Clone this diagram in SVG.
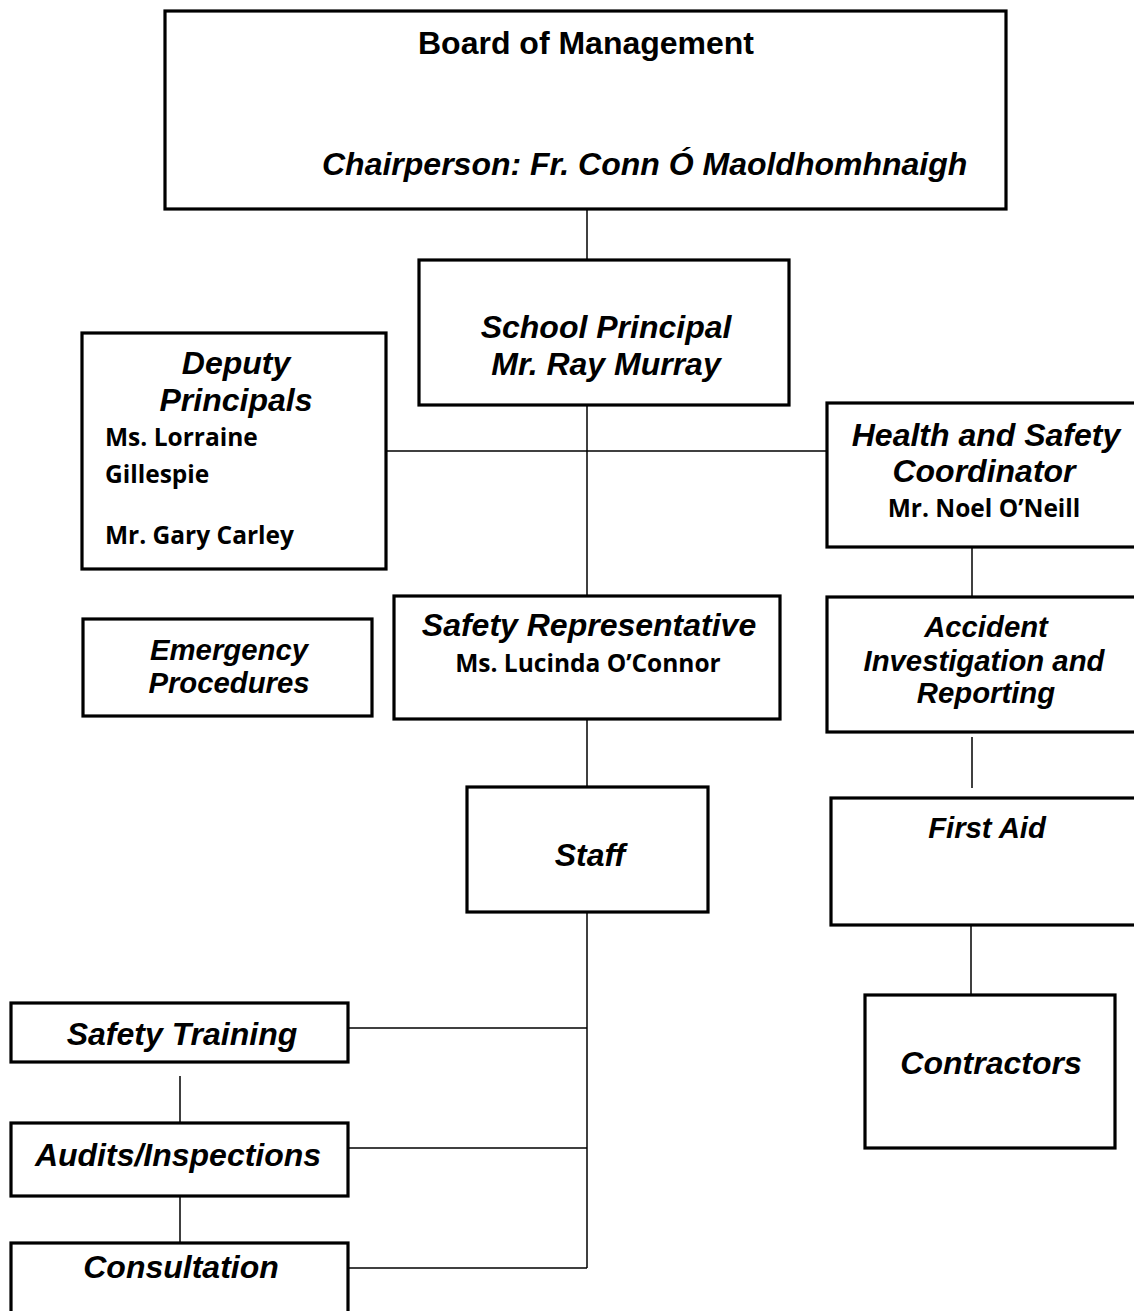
<svg xmlns="http://www.w3.org/2000/svg" width="1134" height="1311" viewBox="0 0 1134 1311">
<style>
.box{fill:#fff;stroke:#000;stroke-width:3.2}
.t{font-family:"Liberation Sans",Arial,sans-serif;font-weight:bold;font-style:italic;font-size:32px;fill:#000}
.ts{font-size:29.3px}
.h{font-family:"Liberation Sans",Arial,sans-serif;font-weight:bold;font-size:32px;fill:#000}
.n{font-family:"Open Sans","Noto Sans",sans-serif;font-weight:bold;font-size:24.5px;fill:#000}
.c{stroke:#000;stroke-width:1.5;fill:none}
</style>
<rect width="1134" height="1311" fill="#fff"/>
<g id="connectors">
<line class="c" x1="587" y1="209" x2="587" y2="260"/>
<line class="c" x1="587" y1="405" x2="587" y2="596"/>
<line class="c" x1="386" y1="451" x2="827" y2="451"/>
<line class="c" x1="972" y1="547" x2="972" y2="597"/>
<line class="c" x1="972" y1="737" x2="972" y2="788"/>
<line class="c" x1="971" y1="922" x2="971" y2="995"/>
<line class="c" x1="587" y1="719" x2="587" y2="787"/>
<line class="c" x1="587" y1="908" x2="587" y2="1268"/>
<line class="c" x1="348" y1="1028" x2="587" y2="1028"/>
<line class="c" x1="348" y1="1148" x2="587" y2="1148"/>
<line class="c" x1="348" y1="1268" x2="587" y2="1268"/>
<line class="c" x1="180" y1="1076" x2="180" y2="1123"/>
<line class="c" x1="180" y1="1196" x2="180" y2="1243"/>
</g>
<g id="board">
<rect class="box" x="165" y="11" width="841" height="198"/>
<text class="h" x="586" y="54" text-anchor="middle">Board of Management</text>
<text class="t" x="322" y="175">Chairperson: Fr. Conn Ó Maoldhomhnaigh</text>
</g>
<g id="principal">
<rect class="box" x="419" y="260" width="370" height="145"/>
<text class="t" x="606" y="338" text-anchor="middle">School Principal</text>
<text class="t" x="606" y="375" text-anchor="middle">Mr. Ray Murray</text>
</g>
<g id="deputy">
<rect class="box" x="82" y="333" width="304" height="236"/>
<text class="t" x="236" y="374" text-anchor="middle">Deputy</text>
<text class="t" x="236" y="411" text-anchor="middle">Principals</text>
<text class="n" x="105" y="446">Ms. Lorraine</text>
<text class="n" x="105" y="483">Gillespie</text>
<text class="n" x="105" y="544">Mr. Gary Carley</text>
</g>
<g id="hs-coordinator">
<rect class="box" x="827" y="403" width="320" height="144"/>
<text class="t" x="986" y="446" text-anchor="middle">Health and Safety</text>
<text class="t" x="984" y="482" text-anchor="middle">Coordinator</text>
<text class="n" x="984" y="517" text-anchor="middle">Mr. Noel O’Neill</text>
</g>
<g id="emergency">
<rect class="box" x="83" y="619" width="289" height="97"/>
<text class="t ts" x="229" y="660" text-anchor="middle">Emergency</text>
<text class="t ts" x="229" y="693" text-anchor="middle">Procedures</text>
</g>
<g id="safety-rep">
<rect class="box" x="394" y="596" width="386" height="123"/>
<text class="t" x="589" y="636" text-anchor="middle">Safety Representative</text>
<text class="n" x="588" y="672" text-anchor="middle">Ms. Lucinda O’Connor</text>
</g>
<g id="accident">
<rect class="box" x="827" y="597" width="320" height="135"/>
<text class="t ts" x="986" y="637" text-anchor="middle">Accident</text>
<text class="t ts" x="984" y="671" text-anchor="middle">Investigation and</text>
<text class="t ts" x="986" y="703" text-anchor="middle">Reporting</text>
</g>
<g id="staff">
<rect class="box" x="467" y="787" width="241" height="125"/>
<text class="t" x="590" y="866" text-anchor="middle">Staff</text>
</g>
<g id="first-aid">
<rect class="box" x="831" y="798" width="316" height="127"/>
<text class="t ts" x="987" y="838" text-anchor="middle">First Aid</text>
</g>
<g id="contractors">
<rect class="box" x="865" y="995" width="250" height="153"/>
<text class="t" x="991" y="1074" text-anchor="middle">Contractors</text>
</g>
<g id="safety-training">
<rect class="box" x="11" y="1003" width="337" height="59"/>
<text class="t" x="182" y="1045" text-anchor="middle">Safety Training</text>
</g>
<g id="audits">
<rect class="box" x="11" y="1123" width="337" height="73"/>
<text class="t" x="178" y="1166" text-anchor="middle">Audits/Inspections</text>
</g>
<g id="consultation">
<rect class="box" x="11" y="1243" width="337" height="90"/>
<text class="t" x="181" y="1278" text-anchor="middle">Consultation</text>
</g>
</svg>
